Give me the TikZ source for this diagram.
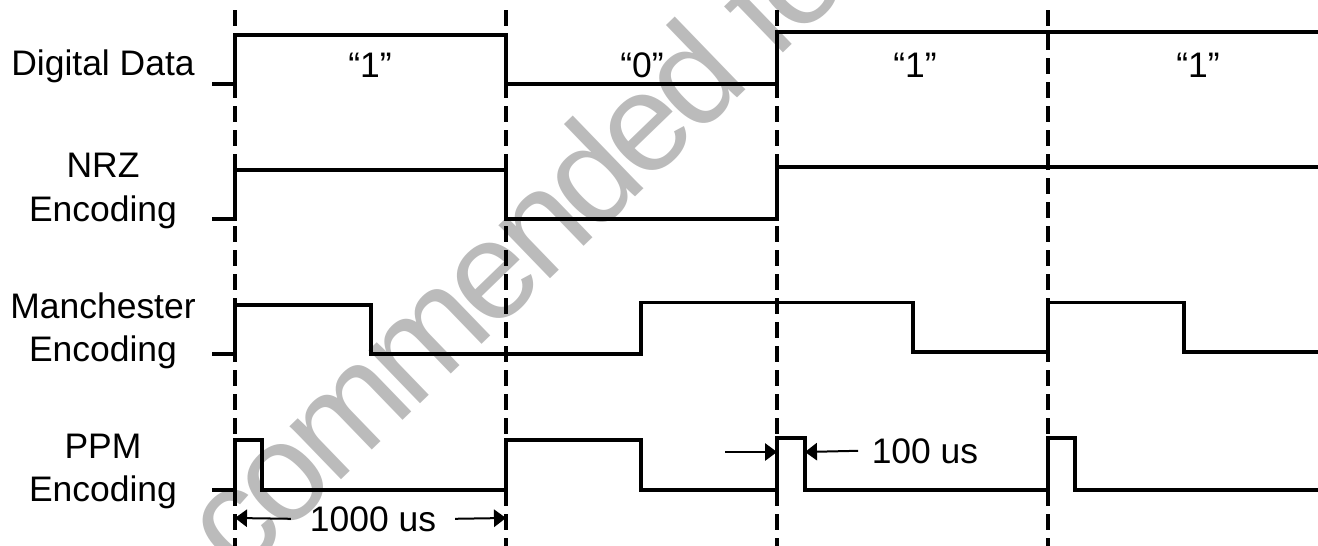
\documentclass[tikz,border=0pt]{standalone}
\usepackage{fontspec}
\setmainfont{Liberation Sans}
\newfontfamily\wmfont[LetterSpace=-5]{Liberation Sans}
\usetikzlibrary{arrows.meta}
\definecolor{wmgray}{RGB}{187,187,187}
\tikzset{
  sig/.style={line width=2.5pt, line join=miter, line cap=butt},
  gridline/.style={line width=2.4pt, dash pattern=on 12pt off 6pt},
  lab/.style={anchor=base, inner sep=0pt, font=\fontsize{26.6pt}{33pt}\selectfont},
  dim/.style={line width=1.5pt, -{Triangle[length=9pt,width=13pt]}},
  wmark/.style={anchor=base west, inner sep=0pt, rotate=44, text=wmgray, font=\wmfont\fontsize{105pt}{110pt}\selectfont}
}
\begin{document}
\begin{tikzpicture}[x=0.75pt,y=-0.75pt]
\useasboundingbox (0,0) rectangle (1318,546);
% watermark
\begin{scope}
\clip (0,0) rectangle (1318,546);
\node[wmark] (wm) at (238,580) {commended fo};
\end{scope}
% dashed bit boundaries
\foreach \x/\n in {235/a,506/b,777/c,1048/d}{
  \coordinate (top\n) at (\x,10);
  \coordinate (bot\n) at (\x,546);
  \draw[gridline] (top\n) -- (bot\n);
}
% signals
\draw[sig] (212,84) -- (235,84) -- (235,35) -- (506,35) -- (506,84) -- (777,84) -- (777,32) -- (1318,32);
\draw[sig] (212,219) -- (235,219) -- (235,170) -- (506,170) -- (506,219) -- (777,219) -- (777,167) -- (1318,167);
\draw[sig] (212,354) -- (235,354) -- (235,305) -- (371,305) -- (371,354) -- (641,354) -- (641,302.5) -- (913,302.5) -- (913,352) -- (1048,352) -- (1048,302.5) -- (1184,302.5) -- (1184,352) -- (1318,352);
\draw[sig] (212,490) -- (235,490) -- (235,440) -- (262,440) -- (262,490) -- (506,490) -- (506,440) -- (641,440) -- (641,490) -- (777,490) -- (777,438) -- (805,438) -- (805,490) -- (1048,490) -- (1048,438) -- (1075,438) -- (1075,490) -- (1318,490);
% row labels
\node[lab] (ldd) at (103,75) {Digital Data};
\node[lab] (lnrz1) at (103,177) {NRZ};
\node[lab] (lnrz2) at (103,221) {Encoding};
\node[lab] (lman1) at (103,318) {Manchester};
\node[lab] (lman2) at (103,361) {Encoding};
\node[lab] (lppm1) at (103,458) {PPM};
\node[lab] (lppm2) at (103,501) {Encoding};
% bit values
\node[lab] (b1) at (370,77) {“1”};
\node[lab] (b2) at (642,77) {“0”};
\node[lab] (b3) at (915,77) {“1”};
\node[lab] (b4) at (1198,77) {“1”};
% dimensions
\node[lab, inner xsep=14pt] (t1000) at (373,531) {1000 us};
\coordinate (d1l) at (235,518);
\coordinate (d1r) at (506,518);
\draw[dim] (t1000.west) -- (d1l);
\draw[dim] (t1000.east) -- (d1r);
\node[lab, inner xsep=10pt] (t100) at (925,463) {100 us};
\coordinate (d2s) at (725,452);
\coordinate (d2l) at (777,452);
\coordinate (d2r) at (805,452);
\draw[dim] (d2s) -- (d2l);
\draw[dim] (t100.west) -- (d2r);
\end{tikzpicture}
\end{document}
